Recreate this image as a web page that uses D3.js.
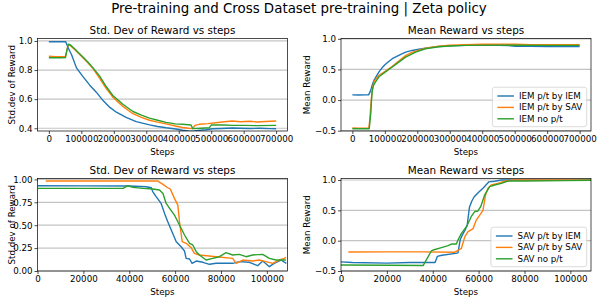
<!DOCTYPE html>
<html><head><meta charset="utf-8">
<script src="https://cdn.jsdelivr.net/npm/d3@7"></script>
<style>body{margin:0;background:#fff}svg{display:block;font-family:"DejaVu Sans",sans-serif}</style>
</head><body><svg id="c" width="598" height="299"></svg>
<script>
const suptitle = "Pre-training and Cross Dataset pre-training | Zeta policy";
const panelTitles = ["Std. Dev of Reward vs steps","Mean Reward vs steps","Std. Dev of Reward vs steps","Mean Reward vs steps"];
const yLabels = ["Std.dev of Reward","Mean Reward","Std.dev of Reward","Mean Reward"];
const xLabel = "Steps";
const legendIEM = ["IEM p/t by IEM","IEM p/t by SAV","IEM no p/t"];
const legendSAV = ["SAV p/t by IEM","SAV p/t by SAV","SAV no p/t"];
const colors = ["#1f77b4","#ff7f0e","#2ca02c"];

const xTicksTop = [0,100000,200000,300000,400000,500000,600000,700000];
const xTicksBottom = [0,20000,40000,60000,80000,100000];
const yTicksStdTop = [0.4,0.6,0.8,1.0];
const yTicksMean = [-0.5,0.0,0.5,1.0];
const yTicksStdBottom = [0,0.25,0.5,0.75,1.0];

// Top-left: IEM std dev
const iemStdByIEM = [[0,0.995],[20000,0.995],[40000,0.995],[52000,0.995],[60000,0.95],[70000,0.905],[85000,0.815],[105000,0.755],[126000,0.696],[146000,0.648],[167000,0.59],[187000,0.545],[208000,0.51],[238000,0.475],[269000,0.445],[310000,0.423],[335000,0.412],[361000,0.403],[390000,0.395],[412000,0.386],[430000,0.382],[443000,0.38],[460000,0.385],[484000,0.39],[504000,0.396],[530000,0.398],[565000,0.402],[590000,0.4],[617000,0.398],[650000,0.4],[680000,0.397],[700000,0.396]];
const iemStdBySAV = [[0,0.895],[20000,0.892],[40000,0.892],[51000,0.893],[56000,0.94],[60000,0.975],[65000,0.97],[80000,0.94],[105000,0.885],[120000,0.85],[136000,0.81],[156000,0.745],[177000,0.672],[197000,0.614],[228000,0.55],[259000,0.5],[285000,0.475],[310000,0.455],[335000,0.442],[361000,0.43],[390000,0.415],[412000,0.405],[430000,0.4],[443000,0.398],[450000,0.42],[463000,0.427],[490000,0.432],[514000,0.438],[540000,0.445],[565000,0.45],[590000,0.445],[620000,0.448],[640000,0.443],[668000,0.446],[700000,0.45]];
const iemStdNoPT = [[0,0.885],[20000,0.885],[40000,0.885],[51000,0.886],[56000,0.94],[60000,0.978],[65000,0.975],[80000,0.945],[105000,0.89],[120000,0.855],[136000,0.815],[156000,0.76],[177000,0.685],[197000,0.625],[228000,0.565],[259000,0.515],[285000,0.49],[310000,0.47],[335000,0.455],[361000,0.44],[390000,0.43],[412000,0.427],[438000,0.422],[443000,0.397],[470000,0.4],[494000,0.403],[500000,0.422],[540000,0.422],[565000,0.42],[600000,0.42],[640000,0.418],[700000,0.42]];

// Top-right: IEM mean reward
const iemMeanByIEM = [[0,0.085],[20000,0.083],[40000,0.085],[50000,0.085],[56000,0.15],[62000,0.26],[67000,0.325],[75000,0.4],[82000,0.46],[92000,0.53],[102000,0.585],[112000,0.63],[123000,0.675],[143000,0.73],[164000,0.783],[184000,0.81],[205000,0.83],[225000,0.848],[266000,0.875],[300000,0.885],[348000,0.892],[400000,0.895],[451000,0.893],[480000,0.89],[502000,0.878],[550000,0.877],[600000,0.874],[650000,0.872],[700000,0.872]];
const iemMeanBySAV = [[0,-0.455],[20000,-0.458],[40000,-0.458],[51000,-0.457],[54000,-0.3],[56000,-0.16],[59000,0.05],[61000,0.16],[65000,0.27],[70000,0.325],[82000,0.405],[102000,0.475],[123000,0.55],[143000,0.635],[164000,0.725],[180000,0.77],[195000,0.8],[225000,0.848],[266000,0.88],[300000,0.895],[348000,0.903],[400000,0.91],[451000,0.913],[502000,0.91],[550000,0.905],[600000,0.904],[700000,0.903]];
const iemMeanNoPT = [[0,-0.468],[20000,-0.468],[40000,-0.468],[52000,-0.468],[55000,-0.3],[57000,-0.2],[59000,0.0],[61000,0.137],[65000,0.24],[70000,0.285],[82000,0.38],[102000,0.46],[123000,0.54],[143000,0.62],[164000,0.7],[195000,0.784],[225000,0.838],[266000,0.87],[300000,0.882],[348000,0.892],[451000,0.897],[502000,0.895],[600000,0.893],[700000,0.893]];

// Bottom-left: SAV std dev
const savStdByIEM = [[0,0.931],[20000,0.93],[40000,0.928],[47400,0.92],[49600,0.909],[50300,0.865],[51800,0.81],[53900,0.738],[55400,0.629],[56800,0.538],[58300,0.447],[60500,0.32],[62600,0.265],[64100,0.218],[64800,0.138],[66300,0.131],[67400,0.084],[69200,0.109],[72100,0.095],[75000,0.073],[77900,0.084],[85100,0.084],[88000,0.102],[92400,0.095],[96000,0.058],[98200,0.109],[101100,0.047],[103200,0.084],[106100,0.12],[108500,0.084]];
const savStdBySAV = [[3600,0.982],[20000,0.982],[40000,0.982],[52500,0.982],[54700,0.945],[56800,0.909],[57900,0.895],[59700,0.793],[61200,0.72],[61900,0.538],[63100,0.32],[64800,0.302],[67000,0.255],[68400,0.193],[70600,0.175],[77900,0.156],[85100,0.138],[86600,0.084],[89500,0.12],[93800,0.109],[96700,0.12],[99600,0.102],[102500,0.084],[105400,0.12],[107600,0.138],[108300,0.15]];
const savStdNoPT = [[0,0.902],[20000,0.902],[37300,0.902],[39400,0.931],[41600,0.913],[46000,0.902],[50300,0.895],[53200,0.884],[54700,0.847],[56100,0.738],[57600,0.684],[59700,0.611],[61900,0.502],[64100,0.393],[66300,0.302],[67700,0.284],[69200,0.211],[70600,0.175],[73500,0.12],[76400,0.138],[79300,0.156],[82200,0.2],[85100,0.175],[88000,0.182],[90900,0.156],[93800,0.175],[98200,0.182],[101100,0.138],[104000,0.12],[108300,0.12]];

// Bottom-right: SAV mean reward
const savMeanByIEM = [[0,-0.35],[5000,-0.36],[20000,-0.37],[30000,-0.36],[41000,-0.36],[42000,-0.26],[44000,-0.24],[50000,-0.21],[51000,-0.2],[52000,0.02],[53000,0.1],[54000,0.17],[55000,0.25],[56000,0.55],[57000,0.65],[58000,0.72],[60000,0.8],[62000,0.87],[63500,0.93],[64500,0.97],[67000,0.98],[70000,1.0],[109000,1.0]];
const savMeanBySAV = [[3200,-0.187],[20000,-0.185],[35000,-0.185],[49600,-0.19],[52500,-0.126],[54000,0.066],[55400,0.148],[57600,0.2],[59000,0.34],[60500,0.42],[61900,0.5],[63000,0.75],[64000,0.86],[65500,0.92],[68400,0.945],[71300,0.98],[75700,1.0],[109000,1.0]];
const savMeanNoPT = [[0,-0.4],[20000,-0.405],[35800,-0.41],[39400,-0.17],[40200,-0.154],[43800,-0.115],[46700,-0.082],[48100,-0.055],[50300,-0.055],[51000,0.01],[52500,0.12],[54700,0.23],[56100,0.34],[56800,0.4],[58300,0.48],[59700,0.49],[60900,0.56],[62600,0.75],[64800,0.89],[67000,0.918],[69900,0.945],[72800,0.984],[80000,0.984],[97400,0.99],[109000,0.995]];

const panels = [
  {x:37.5,y:38.5,xd:[-35000,735000],yd:[0.381,1.017],xt:xTicksTop,yt:yTicksStdTop,yf:d3.format(".1f"),series:[iemStdByIEM,iemStdBySAV,iemStdNoPT],legend:null},
  {x:341,y:38.5,xd:[-35000,735000],yd:[-0.505,1.005],xt:xTicksTop,yt:yTicksMean,yf:d3.format(".1f"),series:[iemMeanByIEM,iemMeanBySAV,iemMeanNoPT],legend:legendIEM},
  {x:37.5,y:178.5,xd:[0,109000],yd:[0,1.01],xt:xTicksBottom,yt:yTicksStdBottom,yf:d3.format(".2f"),series:[savStdByIEM,savStdBySAV,savStdNoPT],legend:null},
  {x:341,y:178.5,xd:[0,109000],yd:[-0.5,1.025],xt:xTicksBottom,yt:yTicksMean,yf:d3.format(".1f"),series:[savMeanByIEM,savMeanBySAV,savMeanNoPT],legend:legendSAV}
];
const W=250,H=92.5,FS=8.7;
const svg=d3.select("#c");
svg.append("text").attr("x",299).attr("y",12.5).attr("text-anchor","middle").attr("font-size",13.4).attr("fill","#000").text(suptitle);

panels.forEach((p,i)=>{
  const g=svg.append("g").attr("transform",`translate(${p.x},${p.y})`);
  const xs=d3.scaleLinear().domain(p.xd).range([0,W]);
  const ys=d3.scaleLinear().domain(p.yd).range([H,0]);
  g.append("g").selectAll("line").data(p.yt).join("line")
    .attr("x1",0).attr("x2",W).attr("y1",d=>ys(d)).attr("y2",d=>ys(d))
    .attr("stroke","#c4c4c4").attr("stroke-width",1.2);
  const line=d3.line().x(d=>xs(d[0])).y(d=>ys(d[1]));
  const clip="clip"+i;
  g.append("clipPath").attr("id",clip).append("rect").attr("width",W).attr("height",H);
  p.series.forEach((s,k)=>{
    g.append("path").attr("d",line(s)).attr("fill","none").attr("stroke",colors[k]).attr("stroke-width",1.4)
      .attr("stroke-linejoin","round").attr("clip-path",`url(#${clip})`);
  });
  const xa=g.append("g").attr("transform",`translate(0,${H})`).call(d3.axisBottom(xs).tickValues(p.xt).tickFormat(d3.format("d")).tickSize(3).tickPadding(2));
  const ya=g.append("g").call(d3.axisLeft(ys).tickValues(p.yt).tickFormat(d=>p.yf(d).replace("-","\u2212")).tickSize(3).tickPadding(2));
  [xa,ya].forEach(a=>{a.select(".domain").remove();a.selectAll("text").attr("font-size",FS).attr("fill","#000").attr("font-family","DejaVu Sans");a.selectAll("line").attr("stroke","#000").attr("stroke-width",0.7);});
  g.append("rect").attr("width",W).attr("height",H).attr("fill","none").attr("stroke","#000").attr("stroke-width",0.7);
  g.append("text").attr("x",W/2).attr("y",-5).attr("text-anchor","middle").attr("font-size",10.4).text(panelTitles[i]);
  g.append("text").attr("x",W/2).attr("y",H+24).attr("text-anchor","middle").attr("font-size",FS).text(xLabel);
  const ylx = i%2===0 ? -22.5 : -31;
  g.append("text").attr("transform",`translate(${ylx},${H/2}) rotate(-90)`).attr("text-anchor","middle").attr("font-size",FS).text(yLabels[i]);
  if(p.legend){
    const lg=g.append("g");
    const items=lg.selectAll("g").data(p.legend).join("g");
    items.append("text").attr("x",0).attr("y",(d,k)=>k*11.4).attr("dy","0.35em").attr("font-size",FS).text(d=>d);
    let tw=0; items.selectAll("text").each(function(){tw=Math.max(tw,this.getComputedTextLength());});
    const bw=tw+31, bh=39.5, bx=W-4.3-bw, by=H-4.3-bh;
    lg.insert("rect",":first-child").attr("x",bx).attr("y",by).attr("width",bw).attr("height",bh).attr("rx",2.5)
      .attr("fill","#fff").attr("fill-opacity",0.8).attr("stroke","#ccc").attr("stroke-width",0.7);
    items.select("text").attr("x",bx+26.6).attr("y",(d,k)=>by+8.8+k*11.4);
    items.append("line").attr("x1",bx+5).attr("x2",bx+21.6).attr("y1",(d,k)=>by+8.8+k*11.4).attr("y2",(d,k)=>by+8.8+k*11.4)
      .attr("stroke",(d,k)=>colors[k]).attr("stroke-width",1.4);
  }
});
</script></body></html>
